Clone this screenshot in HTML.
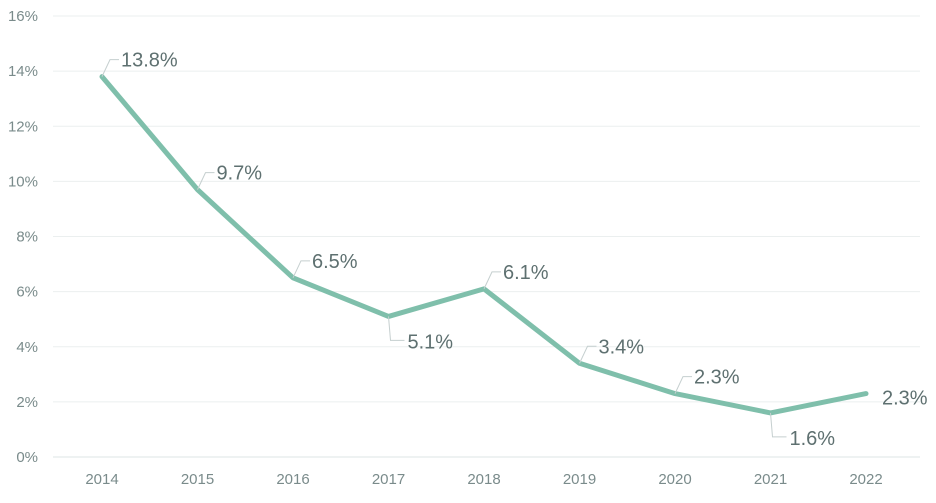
<!DOCTYPE html>
<html><head><meta charset="utf-8"><style>
body{margin:0;background:#fff;}
svg text{font-family:"Liberation Sans",sans-serif;}
</style></head><body>
<svg id="chart" width="936" height="498" viewBox="0 0 936 498"></svg>
<script>
const years=["2014","2015","2016","2017","2018","2019","2020","2021","2022"];
const values=[13.8,9.7,6.5,5.1,6.1,3.4,2.3,1.6,2.3];
const yTicks=[0,2,4,6,8,10,12,14,16];
const labels=["13.8%","9.7%","6.5%","5.1%","6.1%","3.4%","2.3%","1.6%","2.3%"];
const labelPos=["ur","ur","ur","dr","ur","ur","ur","dr","r"];
const NS="http://www.w3.org/2000/svg";
const svg=document.getElementById('chart');
const x0=102,x1=866,yTop=16,yBot=457;
const xs=i=>x0+(x1-x0)*i/(years.length-1);
const ys=v=>yBot-(v/16)*(yBot-yTop);
function mk(t,a){const e=document.createElementNS(NS,t);for(const k in a)e.setAttribute(k,a[k]);svg.appendChild(e);return e;}
yTicks.forEach(t=>{
  const g=mk('line',{x1:53,x2:920,y1:ys(t),y2:ys(t),stroke:t===0?'#dde5e5':'#ebefef','stroke-width':1});
  
  
  const tx=mk('text',{x:38,y:ys(t)+5,'text-anchor':'end','font-size':15,fill:'#7a8b8b'});
  tx.textContent=t+'%';
  
  
});
years.forEach((yr,i)=>{
  const tx=mk('text',{x:xs(i),y:484,'text-anchor':'middle','font-size':15,fill:'#7a8b8b'});
  tx.textContent=yr;
  
  
});
const pts=values.map((v,i)=>xs(i)+','+ys(v)).join(' ');
const pl=mk('polyline',{points:pts,fill:'none',stroke:'#7fbfab','stroke-width':5,'stroke-linejoin':'round','stroke-linecap':'round'});


values.forEach((v,i)=>{
  const px=xs(i),py=ys(v),p=labelPos[i];
  let lx,ly,d;
  if(p==='ur'){d=`M${px},${py} L${px+8},${py-17} L${px+17},${py-17}`;lx=px+19;ly=py-10;}
  else if(p==='dr'){d=`M${px},${py} L${px+2},${py+24} L${px+16},${py+24}`;lx=px+19;ly=py+32;}
  else {d='';lx=px+16;ly=py+11;}
  if(d){const l=mk('path',{d:d,fill:'none',stroke:'#c5cfcf','stroke-width':1});
    
    }
  const tx=mk('text',{x:lx,y:ly,'font-size':20,fill:'#5e7070'});
  tx.textContent=labels[i];
  
  
});
</script>
</body></html>
